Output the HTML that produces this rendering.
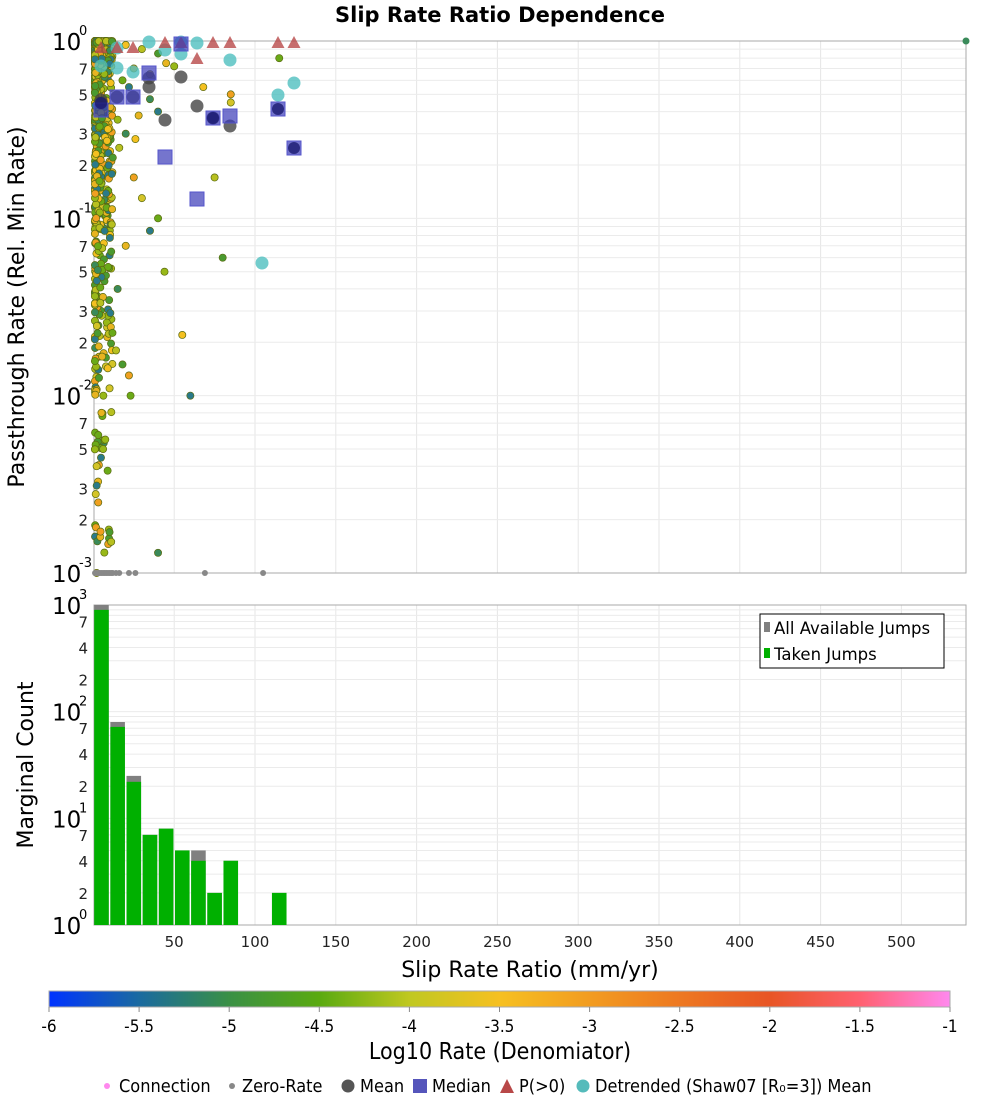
<!DOCTYPE html>
<html><head><meta charset="utf-8"><style>
body{margin:0;background:#fff;width:1000px;height:1100px;overflow:hidden;font-family:"Liberation Sans","DejaVu Sans",sans-serif}
</style></head><body>
<svg id="s" width="1000" height="1100" xmlns="http://www.w3.org/2000/svg" font-family="DejaVu Sans, Liberation Sans, sans-serif">
<defs>
<linearGradient id="cb" x1="0" x2="1" y1="0" y2="0">
<stop offset="0" stop-color="#0033ff"/>
<stop offset="0.1" stop-color="#1a6aa0"/>
<stop offset="0.2" stop-color="#3a9045"/>
<stop offset="0.3" stop-color="#5aaa10"/>
<stop offset="0.4" stop-color="#c0c820"/>
<stop offset="0.5" stop-color="#f6c020"/>
<stop offset="0.65" stop-color="#f08a20"/>
<stop offset="0.8" stop-color="#e85525"/>
<stop offset="0.9" stop-color="#ff6070"/>
<stop offset="1" stop-color="#ff88ee"/>
</linearGradient>
</defs>
<g id="g"></g>
</svg>
<script>
var NS="http://www.w3.org/2000/svg",G=document.getElementById("g");
function el(t,a,txt){var e=document.createElementNS(NS,t);for(var k in a)e.setAttribute(k,a[k]);if(txt!==undefined)e.textContent=txt;G.appendChild(e);return e;}
var X0=93.4,PX=1.616,L=94,R=966;
function xp(v){return X0+v*PX;}
var T0=41,T1=573,TD=(T1-T0)/3;
function ytop(v){return T0+(-Math.log10(v))*TD;}
var B0=605,B1=925,BD=(B1-B0)/3;
function ybot(v){return B1-Math.log10(v)*BD;}
function grid(top,bot,yf,decs){
 for(var x=50;x<=540;x+=50)el("line",{x1:xp(x),x2:xp(x),y1:top,y2:bot,stroke:"#e6e6e6","stroke-width":1});
 decs.forEach(function(d){for(var m=1;m<=9;m++){var y=yf(m*Math.pow(10,d));if(y>=top-0.5&&y<=bot+0.5)el("line",{x1:L,x2:R,y1:y,y2:y,stroke:"#ebebeb","stroke-width":1});}});
}
grid(T0,T1,ytop,[-3,-2,-1,0]);
grid(B0,B1,ybot,[0,1,2]);
function ylab(yf,decs,minors){
 decs.forEach(function(d){var y=yf(Math.pow(10,d));
  el("text",{x:52,y:y+9,"font-size":23,fill:"#000"},"10");
  el("text",{x:79,y:y-6,"font-size":13,fill:"#000"},String(d));
  minors.forEach(function(m){var v=m*Math.pow(10,d);var yy=yf(v);if(Math.log10(v)<decs[decs.length-1]-1e-9)el("text",{x:88,y:yy+6,"font-size":15,fill:"#222","text-anchor":"end"},String(m));});
 });
}
ylab(ytop,[-3,-2,-1,0],[2,3,5,7]);
ylab(ybot,[0,1,2,3],[2,4,7]);
[[T0,T1],[B0,B1]].forEach(function(p){el("rect",{x:L,y:p[0],width:R-L,height:p[1]-p[0],fill:"none",stroke:"#aaa","stroke-width":1});});
var seed=7;function rnd(){seed=(seed*16807)%2147483647;return seed/2147483647;}
var cols=["#f4c020","#e8b420","#d4c428","#b8c020","#98b818","#6aaa18","#4a9a30","#3a8a5a","#2a7a8a","#f0a020"];
for(var i=0;i<650;i++){
 var xv=Math.pow(rnd(),2.4)*11;var lv=-Math.pow(rnd(),2.0)*2.0;
 if(rnd()<0.45)lv=-Math.pow(rnd(),2.5)*1.2;
 if(rnd()<0.04)lv=-2-rnd()*0.9;
 var c=cols[Math.floor(rnd()*cols.length)];
 el("circle",{cx:xp(xv)+1.5,cy:ytop(Math.pow(10,lv)),r:3.6,fill:c,stroke:"#5a6a10","stroke-width":0.7});
}
var extra=[[20,0.95],[30,0.9],[40,0.85],[25,0.7],[35,0.65],[18,0.6],[22,0.55],[28,0.38],[15,0.36],[20,0.3],[26,0.28],[16,0.25],[12,0.22],[25,0.17],[30,0.13],[40,0.1],[35,0.085],[20,0.07],[44,0.05],[15,0.04],[55,0.022],[14,0.018],[18,0.015],[22,0.013],[10,0.011],[23,0.01],[60,0.01],[5,0.008],[6,0.005],[40,0.0013],[68,0.55],[75,0.17],[80,0.06],[85,0.5],[85,0.45],[115,0.8],[40,0.4],[45,0.75],[50,0.72],[35,0.47],[2,0.001],[11,0.0015],[10,0.0017],[3,0.0025],[2,0.004],[3,0.006]];
extra.forEach(function(p,i){el("circle",{cx:xp(p[0]),cy:ytop(p[1]),r:3.6,fill:cols[(i*3)%cols.length],stroke:"#5a6a10","stroke-width":0.7});});
[1,2,3,4,5,6,7,8,9,10,11,12,14,16,22,26,69,105].forEach(function(x){el("circle",{cx:xp(x),cy:T1,r:3,fill:"#888"});});
var cy=[[101,66],[117,68],[133,72],[149,42],[165,50],[181,54],[197,43],[230,60],[278,95],[294,83],[262,263],[181,42],[117,48]];
cy.forEach(function(p){el("circle",{cx:p[0],cy:p[1],r:6.5,fill:"#4fbfbf","fill-opacity":0.8});});
var tr=[[101,47],[117,47],[133,47],[165,42],[213,42],[230,42],[278,42],[294,42],[197,58],[181,42]];
tr.forEach(function(p){el("polygon",{points:(p[0]-6.5)+","+(p[1]+6)+" "+(p[0]+6.5)+","+(p[1]+6)+" "+p[0]+","+(p[1]-6),fill:"#b84848","fill-opacity":0.8});});
var mn=[[133,97],[149,87],[117,97],[101,103],[165,120],[181,77],[197,106],[230,126],[149,78],[101,100],[213,118]];
mn.forEach(function(p){el("circle",{cx:p[0],cy:p[1],r:6.5,fill:"#444","fill-opacity":0.8});});
var md=[[117,97],[133,97],[149,73],[165,157],[197,199],[213,118],[230,116],[278,109],[294,148],[181,44],[101,110]];
md.forEach(function(p){el("rect",{x:p[0]-7,y:p[1]-7,width:14,height:14,fill:"#3a3ab8","fill-opacity":0.7,stroke:"#5555cc","stroke-width":1});});
[[278,109],[294,148],[213,118],[101,103]].forEach(function(p){el("circle",{cx:p[0],cy:p[1],r:6,fill:"#1a1a70","fill-opacity":0.8});});
el("circle",{cx:966,cy:41,r:3.5,fill:"#3a8a5a"});
var H=[[1000,900],[80,72],[25,22],[7,7],[8,8],[5,5],[5,4],[2,2],[4,4],null,null,[2,2]];
H.forEach(function(h,i){if(!h)return;var x1=xp(i*10)+0.8,x2=xp(i*10+10)-0.8;
 el("rect",{x:x1,y:ybot(h[0]),width:x2-x1,height:B1-ybot(h[0]),fill:"#808080"});
 el("rect",{x:x1,y:ybot(h[1]),width:x2-x1,height:B1-ybot(h[1]),fill:"#00b000"});});
el("rect",{x:760,y:614,width:184,height:54,fill:"#fff",stroke:"#000","stroke-width":1});
el("rect",{x:764,y:622,width:6,height:10,fill:"#808080"});
el("text",{x:774,y:634,"font-size":16.5},"All Available Jumps");
el("rect",{x:764,y:648,width:6,height:10,fill:"#00b000"});
el("text",{x:774,y:660,"font-size":16.5},"Taken Jumps");
for(var x=50;x<=500;x+=50)el("text",{x:xp(x),y:947,"font-size":15,"text-anchor":"middle",fill:"#222"},String(x));
el("text",{x:500,y:22,"font-size":21,"font-weight":"bold","text-anchor":"middle"},"Slip Rate Ratio Dependence");
el("text",{x:530,y:977,"font-size":22,"text-anchor":"middle"},"Slip Rate Ratio (mm/yr)");
el("text",{x:0,y:0,"font-size":22,"text-anchor":"middle",transform:"translate(24,307) rotate(-90)"},"Passthrough Rate (Rel. Min Rate)");
el("text",{x:0,y:0,"font-size":22,"text-anchor":"middle",transform:"translate(33,765) rotate(-90)"},"Marginal Count");
el("rect",{x:49,y:991,width:901,height:16,fill:"url(#cb)",stroke:"#aaa","stroke-width":1});
var CF="DejaVu Sans Condensed, Liberation Sans Narrow, DejaVu Sans, sans-serif";
for(var k=0;k<=10;k++){var cx=49+k*90.1;el("line",{x1:cx,x2:cx,y1:1007,y2:1012,stroke:"#888"});
 el("text",{x:cx,y:1032,"font-size":17,"font-family":CF,"text-anchor":"middle"},String(-6+k*0.5));}
el("text",{x:500,y:1059,"font-size":23,"font-family":CF,"text-anchor":"middle"},"Log10 Rate (Denomiator)");
var ly=1092;
function lt(x,s){el("text",{x:x,y:ly,"font-size":18,"font-family":CF},s);}
el("circle",{cx:107,cy:ly-6,r:3,fill:"#ff88ee"});lt(119,"Connection");
el("circle",{cx:232,cy:ly-6,r:3,fill:"#888"});lt(242,"Zero-Rate");
el("circle",{cx:348,cy:ly-6,r:6.5,fill:"#555"});lt(360,"Mean");
el("rect",{x:413,y:ly-13,width:14,height:14,fill:"#5555bb"});lt(432,"Median");
el("polygon",{points:"500,"+(ly+1)+" 514,"+(ly+1)+" 507,"+(ly-13),fill:"#b84848"});lt(519,"P(>0)");
el("circle",{cx:583,cy:ly-6,r:6.5,fill:"#55bbbb"});lt(595,"Detrended (Shaw07 [R₀=3]) Mean");
</script>
</body></html>
